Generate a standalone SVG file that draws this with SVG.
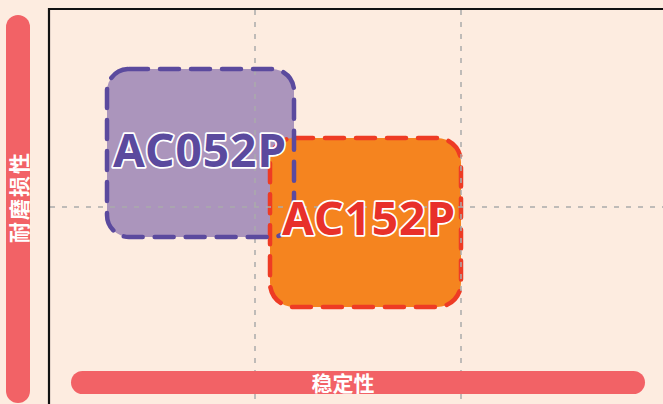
<svg xmlns="http://www.w3.org/2000/svg" width="663" height="404" viewBox="0 0 663 404">
<style>
.grid{stroke:#aaaaaa;stroke-width:1.5;stroke-dasharray:5 7;fill:none}
.axis{stroke:#111111;stroke-width:2.2;fill:none}
.bar{fill:#f26266}
.axlabel{font-family:"Noto Sans CJK SC","Noto Sans",sans-serif;font-weight:bold;font-size:21px;fill:#ffffff;text-anchor:middle;dominant-baseline:central}
.big{font-family:"Noto Sans","Open Sans",sans-serif;font-weight:bold;font-size:46px;letter-spacing:1px;text-anchor:middle;stroke:#ffffff;stroke-width:3.5;paint-order:stroke;stroke-linejoin:round}
.dash{stroke-width:4.5;stroke-dasharray:19 12;stroke-linecap:round;fill:none}
</style>
<rect width="663" height="404" fill="#fdece0"/>
<g id="ac052p-fill">
<rect x="107" y="69" width="187" height="168" rx="22" fill="#ab95bc"/>
</g>
<g id="ac152p">
<rect x="270" y="138" width="191" height="169" rx="24" fill="#f5841f"/>
<rect x="270" y="138" width="191" height="169" rx="24" class="dash" stroke="#ee3b24"/>
</g>
<g id="grid">
<line class="grid" x1="255" y1="10" x2="255" y2="404"/>
<line class="grid" x1="461" y1="10" x2="461" y2="404"/>
<line class="grid" x1="50" y1="207" x2="663" y2="207"/>
</g>
<g id="ac052p">
<rect x="107" y="69" width="187" height="168" rx="22" class="dash" stroke="#5b4a9e"/>
</g>
<g id="axes">
<polyline class="axis" points="49,404 49,9 663,9"/>
</g>
<g id="label-ac052p">
<text class="big" x="200" y="167" fill="#5b4a9e">AC052P</text>
</g>
<g id="label-ac152p">
<text class="big" x="369" y="235" fill="#e8302a">AC152P</text>
</g>
<g id="y-axis-label">
<rect class="bar" x="6" y="15" width="24" height="388" rx="12"/>
<text class="axlabel" transform="translate(18,197) rotate(-90)" letter-spacing="2">耐磨损性</text>
</g>
<g id="x-axis-label">
<rect class="bar" x="71" y="371" width="574" height="23" rx="11.5"/>
<text class="axlabel" x="343" y="382">稳定性</text>
</g>
</svg>
